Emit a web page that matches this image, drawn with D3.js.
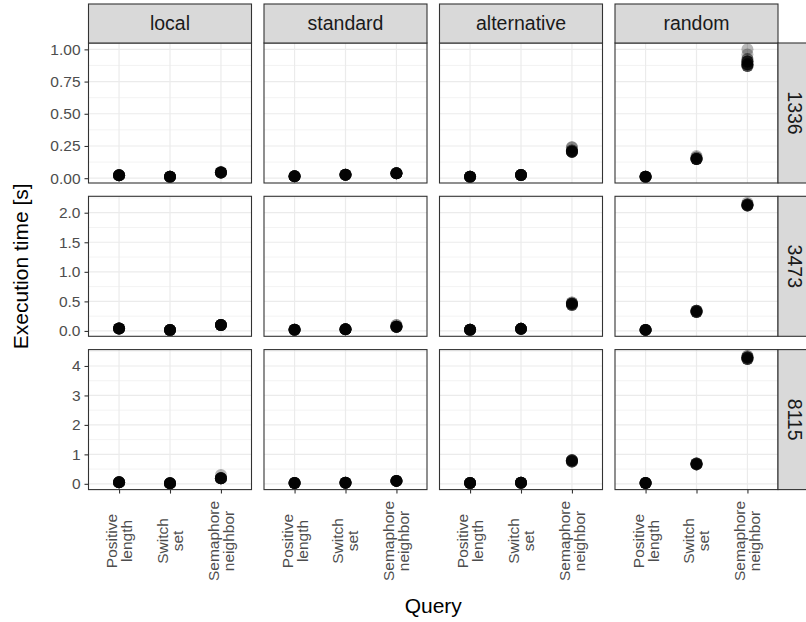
<!DOCTYPE html>
<html><head><meta charset="utf-8">
<script src="https://cdn.jsdelivr.net/npm/d3@7"></script>
<style>body{margin:0;background:#fff;} svg{display:block;font-family:"Liberation Sans",Arial,sans-serif;}</style>
</head><body>
<script>
// ---------- data ----------
const tools = ["local", "standard", "alternative", "random"];
const sizes = ["1336", "3473", "8115"];
const queries = ["Positive length", "Switch set", "Semaphore neighbor"];
const queryLines = [["Positive", "length"], ["Switch", "set"], ["Semaphore", "neighbor"]];

// tick values / labels per size row
const ticks1336 = [0, 0.25, 0.5, 0.75, 1.0];
const tickLabels1336 = ["0.00", "0.25", "0.50", "0.75", "1.00"];
const ticks3473 = [0, 0.5, 1.0, 1.5, 2.0];
const tickLabels3473 = ["0.0", "0.5", "1.0", "1.5", "2.0"];
const ticks8115 = [0, 1, 2, 3, 4];
const tickLabels8115 = ["0", "1", "2", "3", "4"];

// measured runs: per query, list of [time in s, number of runs]
const runs1336local = [[[0.023, 12]], [[0.012, 12]], [[0.045, 11], [0.05, 1]]];
const runs1336standard = [[[0.015, 12]], [[0.027, 12]], [[0.038, 12]]];
const runs1336alternative = [[[0.012, 12]], [[0.025, 12]], [[0.205, 8], [0.215, 3], [0.24, 2]]];
const runs1336random = [[[0.012, 12]], [[0.148, 9], [0.16, 2], [0.172, 1]],
  [[0.87, 4], [0.885, 5], [0.905, 5], [0.925, 2], [0.96, 1], [1.0, 1]]];

const runs3473local = [[[0.04, 12]], [[0.017, 12]], [[0.1, 12]]];
const runs3473standard = [[[0.02, 12]], [[0.03, 12]], [[0.07, 11], [0.1, 2]]];
const runs3473alternative = [[[0.02, 12]], [[0.035, 12]], [[0.44, 4], [0.46, 6], [0.48, 2]]];
const runs3473random = [[[0.018, 12]], [[0.32, 6], [0.34, 6]], [[2.12, 6], [2.14, 5], [2.17, 1]]];

const runs8115local = [[[0.05, 12]], [[0.02, 12]], [[0.19, 11], [0.3, 1]]];
const runs8115standard = [[[0.03, 12]], [[0.04, 12]], [[0.1, 12]]];
const runs8115alternative = [[[0.03, 12]], [[0.04, 12]], [[0.76, 5], [0.8, 6]]];
const runs8115random = [[[0.03, 12]], [[0.66, 6], [0.69, 6]], [[4.24, 5], [4.29, 6], [4.34, 2]]];

const runsBySize = [
  [runs1336local, runs1336standard, runs1336alternative, runs1336random],
  [runs3473local, runs3473standard, runs3473alternative, runs3473random],
  [runs8115local, runs8115standard, runs8115alternative, runs8115random]
];
const ticksBySize = [ticks1336, ticks3473, ticks8115];
const tickLabelsBySize = [tickLabels1336, tickLabels3473, tickLabels8115];

// ---------- layout ----------
const W = 806, H = 622;
const panelX0 = 88.5, panelW = 163, panelGapX = 12.5;
const panelY0 = 43, panelH = 140, panelGapY = 13.3;
const stripH = 39, stripW = 39;
const ptR = 6, ptAlpha = 0.28;
const tickFont = 15.5, stripFont = 19.5, titleFont = 21;

const svg = d3.select("body").append("svg").attr("width", W).attr("height", H);

const x = d3.scalePoint().domain(queries).range([0, panelW]).padding(0.6);

sizes.forEach((size, ri) => {
  const runs = runsBySize[ri];
  const vals = [];
  runs.forEach(t => t.forEach(q => q.forEach(p => vals.push(p[0]))));
  const [mn, mx] = d3.extent(vals);
  const pad = (mx - mn) * 0.05;
  const y = d3.scaleLinear().domain([mn - pad, mx + pad]).range([panelH, 0]);
  const ticks = ticksBySize[ri];
  const minor = [];
  for (let i = 0; i < ticks.length - 1; i++) minor.push((ticks[i] + ticks[i + 1]) / 2);
  const step = ticks[1] - ticks[0];
  if (ticks[ticks.length - 1] + step / 2 <= mx + pad) minor.push(ticks[ticks.length - 1] + step / 2);
  if (ticks[0] - step / 2 >= mn - pad) minor.push(ticks[0] - step / 2);

  const py = panelY0 + ri * (panelH + panelGapY);

  tools.forEach((tool, ci) => {
    const px = panelX0 + ci * (panelW + panelGapX);
    const g = svg.append("g").attr("transform", `translate(${px},${py})`);
    g.append("rect").attr("width", panelW).attr("height", panelH).attr("fill", "#fff");
    // minor grid
    g.selectAll("line.minor").data(minor).join("line").attr("class", "minor")
      .attr("x1", 0).attr("x2", panelW).attr("y1", d => y(d)).attr("y2", d => y(d))
      .attr("stroke", "#EBEBEB").attr("stroke-width", 0.6);
    // major grid
    g.selectAll("line.majy").data(ticks).join("line").attr("class", "majy")
      .attr("x1", 0).attr("x2", panelW).attr("y1", d => y(d)).attr("y2", d => y(d))
      .attr("stroke", "#EBEBEB").attr("stroke-width", 1.2);
    g.selectAll("line.majx").data(queries).join("line").attr("class", "majx")
      .attr("x1", d => x(d)).attr("x2", d => x(d)).attr("y1", 0).attr("y2", panelH)
      .attr("stroke", "#EBEBEB").attr("stroke-width", 1.2);
    // points
    const pts = [];
    runs[ci].forEach((qRuns, qi) => qRuns.forEach(([v, n]) => {
      for (let k = 0; k < n; k++) pts.push({ q: queries[qi], v });
    }));
    g.selectAll("circle").data(pts).join("circle")
      .attr("cx", d => x(d.q)).attr("cy", d => y(d.v)).attr("r", ptR)
      .attr("fill", "#000").attr("fill-opacity", ptAlpha);
    // border
    g.append("rect").attr("width", panelW).attr("height", panelH)
      .attr("fill", "none").attr("stroke", "#333333").attr("stroke-width", 1.1);

    // top strip
    if (ri === 0) {
      const s = svg.append("g").attr("transform", `translate(${px},${py - stripH})`);
      s.append("rect").attr("width", panelW).attr("height", stripH)
        .attr("fill", "#D9D9D9").attr("stroke", "#333333").attr("stroke-width", 1.1);
      s.append("text").attr("x", panelW / 2).attr("y", stripH / 2).attr("dy", "0.35em")
        .attr("text-anchor", "middle").attr("font-size", stripFont).attr("fill", "#1A1A1A").text(tool);
    }
    // right strip
    if (ci === tools.length - 1) {
      const s = svg.append("g").attr("transform", `translate(${px + panelW},${py})`);
      s.append("rect").attr("width", stripW).attr("height", panelH)
        .attr("fill", "#D9D9D9").attr("stroke", "#333333").attr("stroke-width", 1.1);
      s.append("text").attr("transform", `translate(${stripW / 2 - 3},${panelH / 2}) rotate(90)`)
        .attr("dy", "0.35em").attr("text-anchor", "middle").attr("font-size", stripFont)
        .attr("fill", "#1A1A1A").text(size);
    }
    // y axis on first column
    if (ci === 0) {
      const ax = d3.axisLeft(y).tickValues(ticks).tickSize(4).tickPadding(4)
        .tickFormat((d, i) => tickLabelsBySize[ri][i]);
      const a = svg.append("g").attr("transform", `translate(${px},${py})`).call(ax);
      a.select(".domain").remove();
      a.selectAll(".tick line").attr("stroke", "#333333").attr("stroke-width", 1.1);
      a.selectAll(".tick text").attr("fill", "#4D4D4D").attr("font-size", tickFont)
        .attr("font-family", "Liberation Sans, Arial, sans-serif");
    }
    // x axis on last row
    if (ri === sizes.length - 1) {
      const ax = d3.axisBottom(x).tickSize(4).tickFormat("");
      const a = svg.append("g").attr("transform", `translate(${px},${py + panelH})`).call(ax);
      a.select(".domain").remove();
      a.selectAll(".tick line").attr("stroke", "#333333").attr("stroke-width", 1.1);
      const lab = svg.append("g").attr("transform", `translate(${px},0)`);
      queries.forEach((q, qi) => {
        const t = lab.append("text")
          .attr("transform", `translate(${x(q)},541) rotate(-90)`)
          .attr("text-anchor", "middle").attr("font-size", tickFont).attr("fill", "#4D4D4D");
        const lines = queryLines[qi];
        lines.forEach((ln, li) => {
          t.append("tspan").attr("x", 0)
            .attr("y", (li - (lines.length - 1) / 2) * 15)
            .attr("dy", "0.35em").text(ln);
        });
      });
    }
  });
});

// axis titles
const panelsBottom = panelY0 + sizes.length * panelH + (sizes.length - 1) * panelGapY;
svg.append("text")
  .attr("transform", `translate(21,${(panelY0 + panelsBottom) / 2}) rotate(-90)`)
  .attr("text-anchor", "middle").attr("dy", "0.35em").attr("font-size", titleFont).attr("fill", "#000")
  .text("Execution time [s]");
const plotRight = panelX0 + tools.length * panelW + (tools.length - 1) * panelGapX;
svg.append("text")
  .attr("x", (panelX0 + plotRight) / 2).attr("y", 606).attr("dy", "0.35em")
  .attr("text-anchor", "middle").attr("font-size", titleFont).attr("fill", "#000").text("Query");
</script>
</body></html>
